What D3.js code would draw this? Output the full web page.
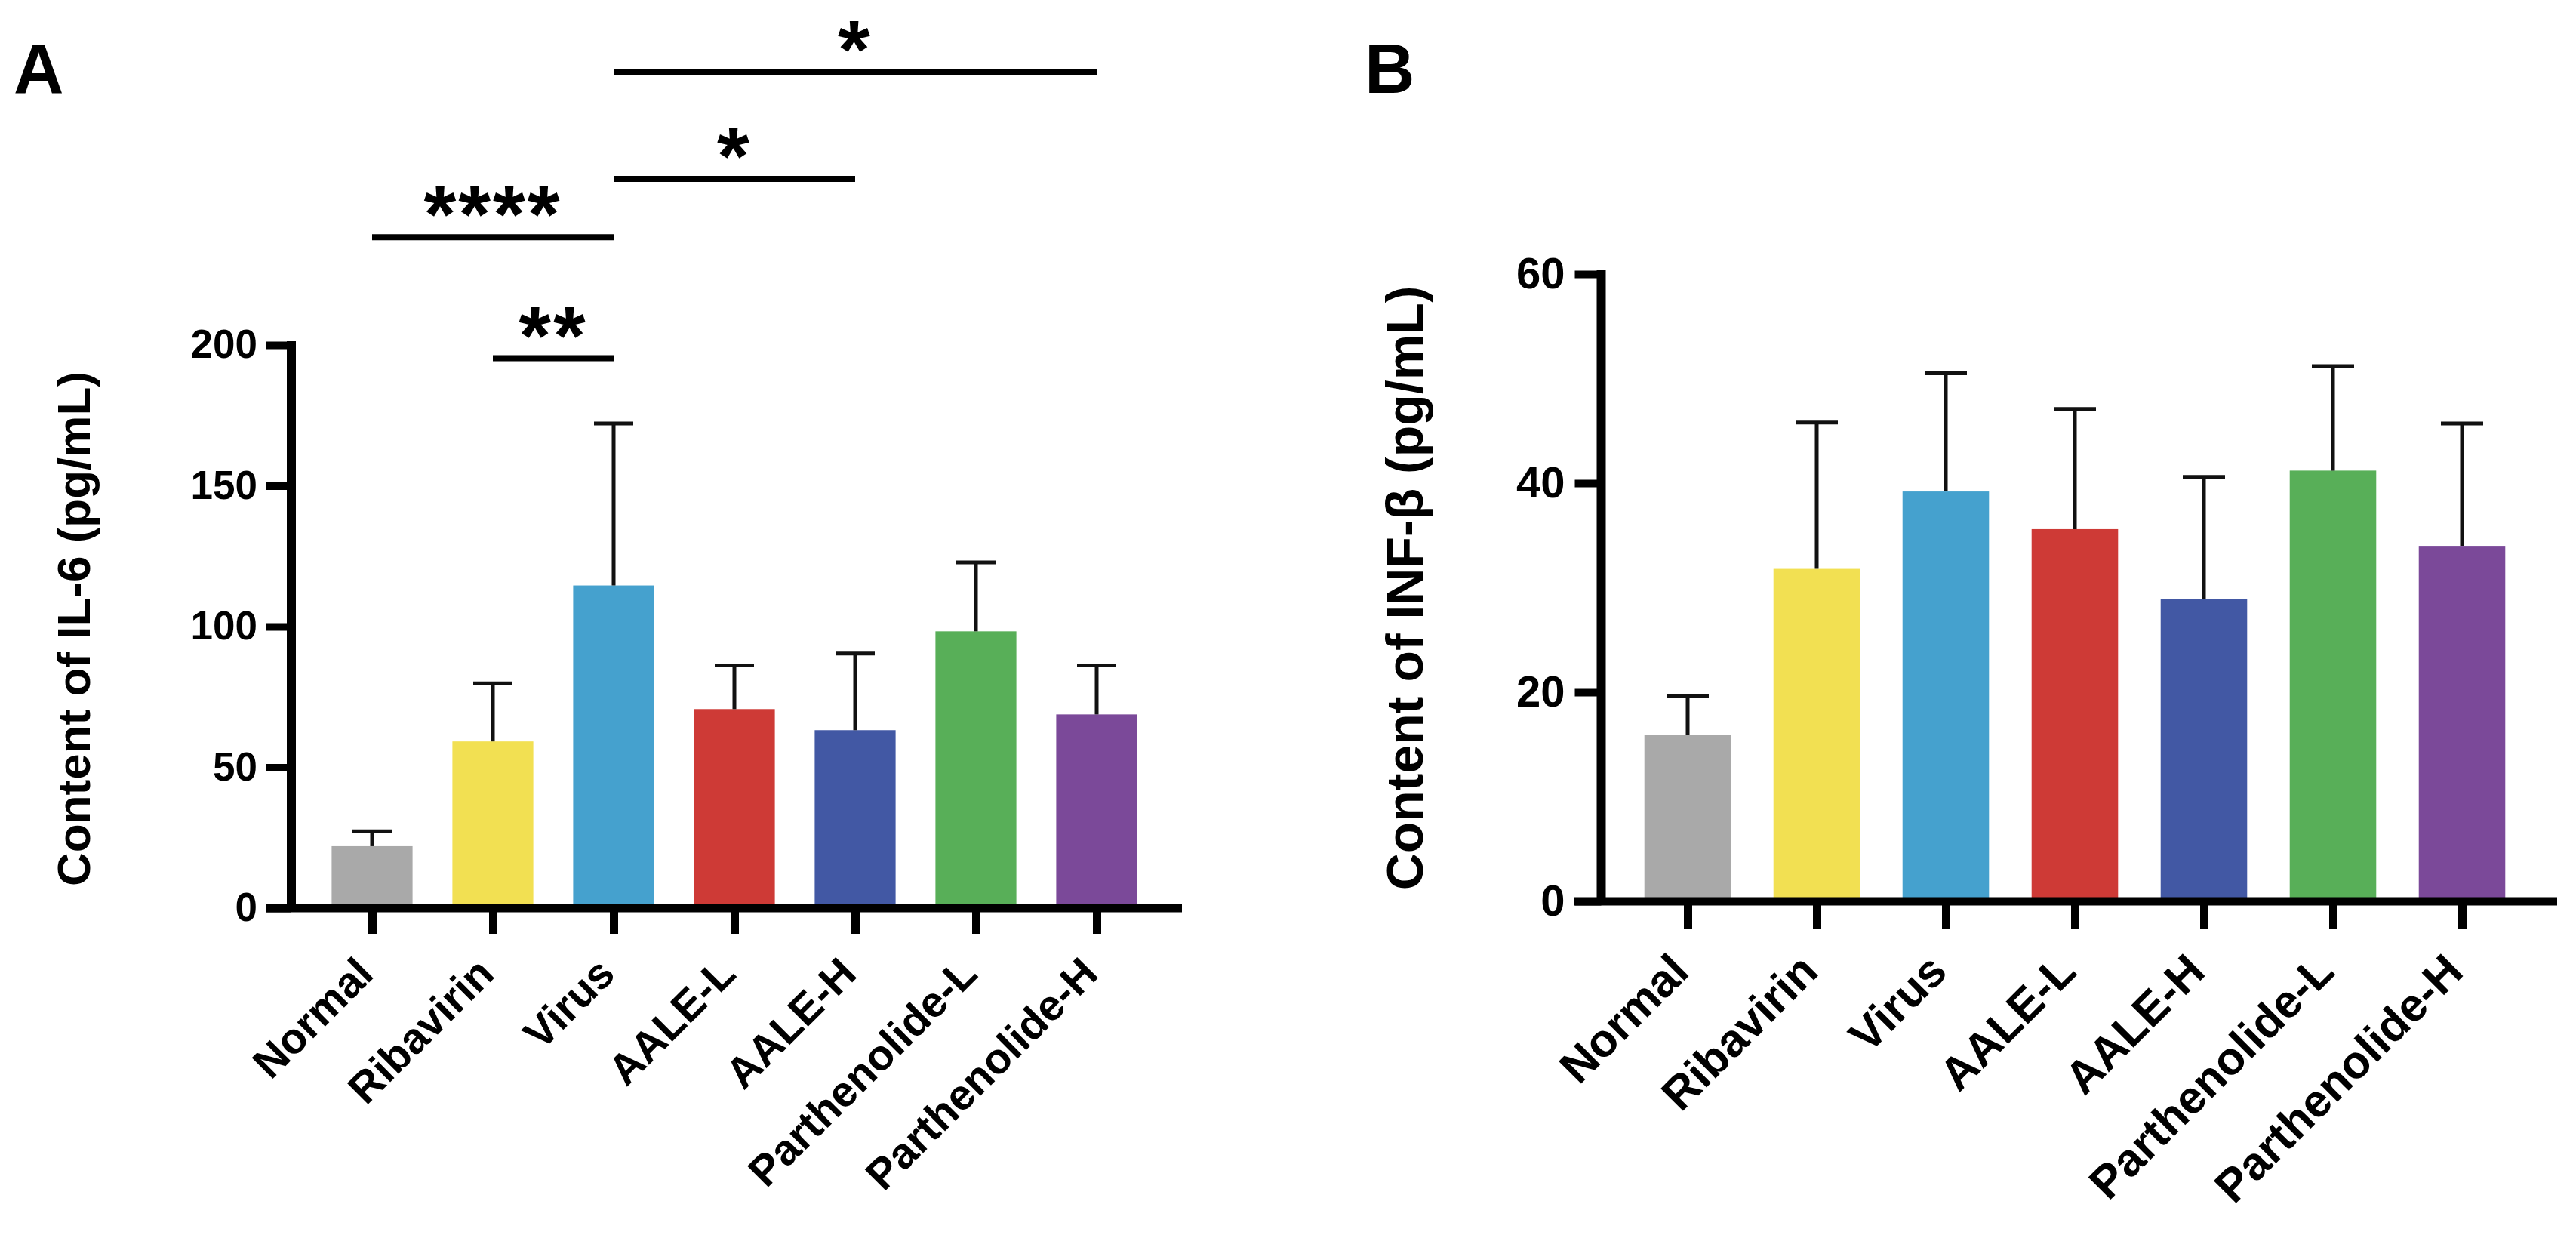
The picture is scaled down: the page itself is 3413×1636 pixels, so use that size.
<!DOCTYPE html>
<html>
<head>
<meta charset="utf-8">
<script src="https://cdn.jsdelivr.net/npm/d3@7"></script>
<style>
  html, body { margin: 0; padding: 0; background: #fff; }
  text { font-family: Arial, "Liberation Sans", sans-serif; font-weight: bold; }
</style>
</head>
<body>
<script>
// groups, shared by both panels
var categories = ["Normal", "Ribavirin", "Virus", "AALE-L", "AALE-H", "Parthenolide-L", "Parthenolide-H"];
var barColors = ["#a9a9a9", "#f2e052", "#45a1ce", "#ce3a36", "#4258a4", "#58af58", "#7b4999"];

// panel A: IL-6 (pg/mL), mean and SD
var il6Mean = [22.0, 59.2, 114.6, 70.7, 63.2, 98.3, 68.8];
var il6Sd   = [5.3, 20.6, 57.5, 15.5, 27.2, 24.5, 17.4];
var il6Ticks = [0, 50, 100, 150, 200];

// panel A: significance brackets [from, to, label, height in data units]
var il6Sig = [
  ["Virus", "Parthenolide-H", "*", 296.8],
  ["Virus", "AALE-H", "*", 259.0],
  ["Normal", "Virus", "****", 238.3],
  ["Ribavirin", "Virus", "**", 195.3]
];

// panel B: INF-beta (pg/mL), mean and SD
var infMean = [15.9, 31.8, 39.2, 35.6, 28.9, 41.2, 34.0];
var infSd   = [3.7, 14.0, 11.3, 11.5, 11.7, 10.0, 11.7];
var infTicks = [0, 20, 40, 60];

var width = 3413;
var height = 1636;

var svg = d3.select("body")
    .append("svg")
        .attr("width", width)
        .attr("height", height);

function drawPanel(cfg) {
  var g = svg.append("g");

  var x = d3.scalePoint()
      .domain(categories)
      .range(cfg.xRange)
      .padding(0.5);
  var step = x.step();
  var barW = step * 0.67;

  var y = d3.scaleLinear()
      .domain([0, cfg.yMax])
      .range([cfg.y0, cfg.yTop]);

  // bars
  g.selectAll("rect.bar")
    .data(categories)
    .join("rect")
      .attr("class", "bar")
      .attr("x", function (d) { return x(d) - barW / 2; })
      .attr("width", barW)
      .attr("y", function (d, i) { return y(cfg.mean[i]); })
      .attr("height", function (d, i) { return y(0) - y(cfg.mean[i]); })
      .attr("fill", function (d, i) { return barColors[i]; });

  // error bars (upper only)
  var eb = g.selectAll("g.err")
    .data(categories)
    .join("g")
      .attr("class", "err");
  eb.append("line")
      .attr("x1", function (d) { return x(d); })
      .attr("x2", function (d) { return x(d); })
      .attr("y1", function (d, i) { return y(cfg.mean[i]); })
      .attr("y2", function (d, i) { return y(cfg.mean[i] + cfg.sd[i]); })
      .attr("stroke", "#111")
      .attr("stroke-width", 5);
  eb.append("line")
      .attr("x1", function (d) { return x(d) - cfg.capW / 2; })
      .attr("x2", function (d) { return x(d) + cfg.capW / 2; })
      .attr("y1", function (d, i) { return y(cfg.mean[i] + cfg.sd[i]); })
      .attr("y2", function (d, i) { return y(cfg.mean[i] + cfg.sd[i]); })
      .attr("stroke", "#111")
      .attr("stroke-width", 5);

  // y axis
  var ya = g.append("g")
      .attr("transform", "translate(" + cfg.axisX + ",0)")
      .call(d3.axisLeft(y)
        .tickValues(cfg.yTicks)
        .tickSize(cfg.yTickLen)
        .tickPadding(cfg.yPad)
        .tickFormat(d3.format("d")));
  ya.select(".domain").remove();
  ya.selectAll(".tick line").attr("stroke", "#000").attr("stroke-width", 10);
  ya.selectAll(".tick text")
      .attr("fill", "#000")
      .style("font-size", cfg.tickFont + "px");

  g.append("line")
      .attr("x1", cfg.axisX).attr("x2", cfg.axisX)
      .attr("y1", y(cfg.yMax) - 5).attr("y2", y(0))
      .attr("stroke", "#000")
      .attr("stroke-width", 12);

  // x axis
  var xa = g.append("g")
      .attr("transform", "translate(0," + y(0) + ")")
      .call(d3.axisBottom(x).tickSize(cfg.xTickLen).tickSizeOuter(0));
  xa.select(".domain").remove();
  xa.selectAll(".tick line").attr("stroke", "#000").attr("stroke-width", 11);
  xa.selectAll(".tick text")
      .attr("fill", "#000")
      .attr("x", 0)
      .attr("y", 0)
      .attr("dy", 0)
      .attr("text-anchor", "end")
      .attr("transform", "translate(" + cfg.labelDx + "," + cfg.labelDy + ") rotate(-45)")
      .style("font-size", cfg.labelFont + "px");

  g.append("line")
      .attr("x1", cfg.xStart).attr("x2", cfg.xEnd)
      .attr("y1", y(0)).attr("y2", y(0))
      .attr("stroke", "#000")
      .attr("stroke-width", 11);

  // axis title
  g.append("text")
      .attr("transform", "translate(" + cfg.titleX + "," + cfg.titleY + ") rotate(-90)")
      .attr("text-anchor", "middle")
      .attr("fill", "#000")
      .style("font-size", cfg.titleFont + "px")
      .text(cfg.title);

  // panel letter
  svg.append("text")
      .attr("x", cfg.letterX)
      .attr("y", cfg.letterY)
      .attr("fill", "#000")
      .style("font-size", "92px")
      .text(cfg.letter);

  // significance brackets
  if (cfg.sig) {
    var sg = g.selectAll("g.sig")
      .data(cfg.sig)
      .join("g")
        .attr("class", "sig");
    sg.append("line")
        .attr("x1", function (d) { return x(d[0]); })
        .attr("x2", function (d) { return x(d[1]); })
        .attr("y1", function (d) { return y(d[3]); })
        .attr("y2", function (d) { return y(d[3]); })
        .attr("stroke", "#000")
        .attr("stroke-width", 8);
    sg.append("text")
        .attr("x", function (d) { return (x(d[0]) + x(d[1])) / 2; })
        .attr("y", function (d) { return y(d[3]) + 7; })
        .attr("text-anchor", "middle")
        .attr("fill", "#000")
        .style("font-size", "110px")
        .style("letter-spacing", "3px")
        .text(function (d) { return d[2]; });
  }
}

drawPanel({
  letter: "A", letterX: 18, letterY: 123,
  mean: il6Mean, sd: il6Sd, yTicks: il6Ticks, yMax: 200,
  xRange: [413, 1533], y0: 1203, yTop: 457,
  axisX: 386, xStart: 352, xEnd: 1566,
  yTickLen: 34, yPad: 11, xTickLen: 34,
  tickFont: 53, labelFont: 57, labelDx: 4, labelDy: 90,
  capW: 52,
  title: "Content of IL-6 (pg/mL)", titleX: 119, titleY: 833, titleFont: 62,
  sig: il6Sig
});

drawPanel({
  letter: "B", letterX: 1808, letterY: 123,
  mean: infMean, sd: infSd, yTicks: infTicks, yMax: 60,
  xRange: [2150.5, 3347.5], y0: 1194, yTop: 363,
  axisX: 2121.5, xStart: 2086, xEnd: 3388,
  yTickLen: 35, yPad: 13, xTickLen: 36,
  tickFont: 58, labelFont: 61, labelDx: 4, labelDy: 96,
  capW: 56,
  title: "Content of INF-\u03b2 (pg/mL)", titleX: 1885, titleY: 779, titleFont: 68,
  sig: null
});
</script>
</body>
</html>
